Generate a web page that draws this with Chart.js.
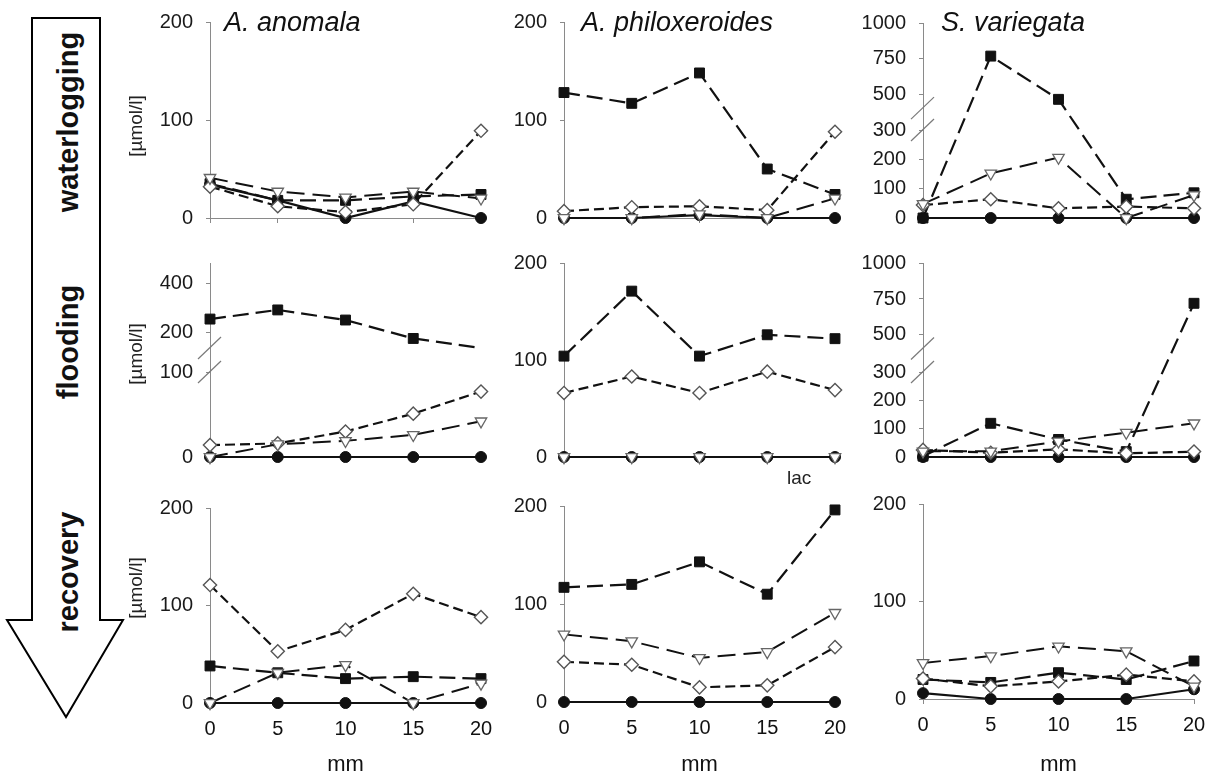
<!DOCTYPE html>
<html>
<head>
<meta charset="utf-8">
<script src="https://cdn.jsdelivr.net/npm/chart.js@4.4.1/dist/chart.umd.min.js"></script>
<style>
html,body{margin:0;padding:0;background:#fff;}
#stage{position:relative;width:1218px;height:780px;overflow:hidden;font-family:'Liberation Sans',Arial,sans-serif;background:#fff;}
#stage canvas{position:absolute;}
.t{position:absolute;white-space:nowrap;color:#111;}
.title{font-style:italic;font-size:27px;line-height:27px;}
.rot{transform:translate(-50%,-50%) rotate(-90deg);}
.row{font-weight:bold;font-size:29px;line-height:29px;}
.unit{font-size:19px;line-height:19px;color:#222;}
</style>
</head>
<body>
<div id="stage">
<svg width="130" height="780" style="position:absolute;left:0;top:0">
  <polygon points="32,18 100,18 100,620 123,620 66,717 7,620 32,620" fill="#fff" stroke="#000" stroke-width="2" stroke-linejoin="miter"/>
</svg>
</div>
<script>
// ---------- categories / ticks ----------
const depthsMm = ['0', '5', '10', '15', '20'];
const yTicks200 = [0, 100, 200];
const yTicks1000 = [0, 100, 200, 300, 500, 750, 1000];
const yTicks400 = [0, 100, 200, 400];
const speciesNames = ['A. anomala', 'A. philoxeroides', 'S. variegata'];
const phaseNames = ['waterlogging', 'flooding', 'recovery'];

// ---------- waterlogging ----------
const wlAnomalaSquare   = [35, 18, 18, 22, 24];
const wlAnomalaCircle   = [34, 18, 0, 17, 0];
const wlAnomalaTriangle = [41, 27, 21, 27, 20];
const wlAnomalaDiamond  = [32, 12, 6, 14, 89];

const wlPhiloxSquare   = [128, 117, 148, 50, 24];
const wlPhiloxCircle   = [0, 0, 3, 0, 0];
const wlPhiloxTriangle = [0, 0, 4, 0, 20];
const wlPhiloxDiamond  = [7, 11, 12, 8, 88];

const wlVariegataSquare   = [0, 770, 475, 64, 86];
const wlVariegataCircle   = [0, 0, 0, 0, 0];
const wlVariegataTriangle = [48, 152, 206, 0, 78];
const wlVariegataDiamond  = [44, 64, 33, 39, 33];

// ---------- flooding ----------
const flAnomalaSquare   = [254, 292, 250, 184, 160];
const flAnomalaCircle   = [0, 0, 0, 0, 0];
const flAnomalaTriangle = [0, 15, 19, 26, 42];
const flAnomalaDiamond  = [14, 16, 30, 51, 77];

const flPhiloxSquare   = [104, 171, 104, 126, 122];
const flPhiloxCircle   = [0, 0, 0, 0, 0];
const flPhiloxTriangle = [0, 0, 0, 0, 0];
const flPhiloxDiamond  = [66, 83, 66, 88, 69];

const flVariegataSquare   = [3, 119, 62, 19, 720];
const flVariegataCircle   = [0, 0, 0, 0, 0];
const flVariegataTriangle = [20, 20, 55, 86, 119];
const flVariegataDiamond  = [25, 15, 27, 13, 19];

// ---------- recovery ----------
const rcAnomalaSquare   = [38, 31, 25, 27, 25];
const rcAnomalaCircle   = [0, 0, 0, 0, 0];
const rcAnomalaTriangle = [0, 31, 39, 0, 20];
const rcAnomalaDiamond  = [121, 53, 75, 112, 88];

const rcPhiloxSquare   = [117, 120, 143, 110, 196];
const rcPhiloxCircle   = [0, 0, 0, 0, 0];
const rcPhiloxTriangle = [69, 62, 45, 51, 91];
const rcPhiloxDiamond  = [41, 38, 15, 17, 56];

const rcVariegataSquare   = [20, 17, 27, 20, 39];
const rcVariegataCircle   = [6, 0, 0, 0, 10];
const rcVariegataTriangle = [37, 44, 54, 49, 13];
const rcVariegataDiamond  = [21, 13, 18, 25, 18];

// ---------- custom broken linear scale ----------
class BrokenLinearScale extends Chart.LinearScale {
  _bp() { return this.options.breakpoints; }
  _toDecimal(v) {
    const bp = this._bp();
    if (!bp) return (v - this._startValue) / this._valueRange;
    let i = 0;
    while (i < bp.length - 2 && v > bp[i + 1][0]) i++;
    const a = bp[i], b = bp[i + 1];
    return a[1] + (v - a[0]) / (b[0] - a[0]) * (b[1] - a[1]);
  }
  _fromDecimal(d) {
    const bp = this._bp();
    if (!bp) return this._startValue + d * this._valueRange;
    let i = 0;
    while (i < bp.length - 2 && d > bp[i + 1][1]) i++;
    const a = bp[i], b = bp[i + 1];
    return a[0] + (d - a[1]) / (b[1] - a[1]) * (b[0] - a[0]);
  }
  getPixelForValue(value) {
    return value === null ? NaN : this.getPixelForDecimal(this._toDecimal(value));
  }
  getValueForPixel(pixel) {
    return this._fromDecimal(this.getDecimalForPixel(pixel));
  }
}
BrokenLinearScale.id = 'brokenLinear';
BrokenLinearScale.defaults = {};
Chart.register(BrokenLinearScale);

// ---------- panel layout (positions / styles) ----------
const colAxisX = [210, 564, 923];
const plotW = 271;
const Y_W = 90, PAD_T = 14, PAD_R = 15;

const panels = [
  {r:0,c:0, top:22, bottom:218, ticks:yTicks200, bp:[[0,0],[200,1]],
   d:{sq:wlAnomalaSquare, ci:wlAnomalaCircle, tr:wlAnomalaTriangle, di:wlAnomalaDiamond}},
  {r:0,c:1, top:22, bottom:218, ticks:yTicks200, bp:[[0,0],[200,1]],
   d:{sq:wlPhiloxSquare, ci:wlPhiloxCircle, tr:wlPhiloxTriangle, di:wlPhiloxDiamond}},
  {r:0,c:2, top:23, bottom:218, ticks:yTicks1000, bp:[[0,0],[300,0.451],[500,0.631],[1000,1]], marks:[300,425],
   d:{sq:wlVariegataSquare, ci:wlVariegataCircle, tr:wlVariegataTriangle, di:wlVariegataDiamond}},
  {r:1,c:0, top:263, bottom:457, ticks:yTicks400, bp:[[0,0],[100,0.438],[200,0.644],[487,1]], marks:[100,160], hideLastSq:true,
   d:{sq:flAnomalaSquare, ci:flAnomalaCircle, tr:flAnomalaTriangle, di:flAnomalaDiamond}},
  {r:1,c:1, top:263, bottom:457, ticks:yTicks200, bp:[[0,0],[200,1]],
   d:{sq:flPhiloxSquare, ci:flPhiloxCircle, tr:flPhiloxTriangle, di:flPhiloxDiamond}},
  {r:1,c:2, top:263, bottom:457, ticks:yTicks1000, bp:[[0,0],[300,0.438],[500,0.629],[1000,1]], marks:[300,427],
   d:{sq:flVariegataSquare, ci:flVariegataCircle, tr:flVariegataTriangle, di:flVariegataDiamond}},
  {r:2,c:0, top:508, bottom:703, ticks:yTicks200, bp:[[0,0],[200,1]],
   d:{sq:rcAnomalaSquare, ci:rcAnomalaCircle, tr:rcAnomalaTriangle, di:rcAnomalaDiamond}},
  {r:2,c:1, top:506, bottom:702, ticks:yTicks200, bp:[[0,0],[200,1]],
   d:{sq:rcPhiloxSquare, ci:rcPhiloxCircle, tr:rcPhiloxTriangle, di:rcPhiloxDiamond}},
  {r:2,c:2, top:504, bottom:699, ticks:yTicks200, bp:[[0,0],[200,1]],
   d:{sq:rcVariegataSquare, ci:rcVariegataCircle, tr:rcVariegataTriangle, di:rcVariegataDiamond}},
];

const FONT = "'Liberation Sans', Arial, sans-serif";
const AXIS_GRAY = '#8a8a8a';
const stage = document.getElementById('stage');

function makeDatasets(p) {
  const base = {tension:0, fill:false, clip:false, borderColor:'#111', borderWidth:2.2};
  return [
    Object.assign({}, base, {label:'open triangle', data:p.d.tr, borderDash:[18,8], borderWidth:2,
      pointStyle:'triangle', pointRotation:180, pointRadius:6.6,
      pointBackgroundColor:'#fff', pointBorderColor:'#666', pointBorderWidth:1.3}),
    Object.assign({}, base, {label:'open diamond', data:p.d.di, borderDash:[10,5],
      pointStyle:'rectRot', pointRadius:6.6,
      pointBackgroundColor:'#fff', pointBorderColor:'#555', pointBorderWidth:1.4}),
    Object.assign({}, base, {label:'filled square', data:p.d.sq, borderDash:[16,7],
      pointStyle:'rect', pointRadius: p.hideLastSq ? (ctx => ctx.dataIndex === 4 ? 0 : 7) : 7,
      pointBackgroundColor:'#111', pointBorderColor:'#111', pointBorderWidth:1}),
    Object.assign({}, base, {label:'filled circle', data:p.d.ci, borderDash:[],
      pointStyle:'circle', pointRadius:5.5,
      pointBackgroundColor:'#111', pointBorderColor:'#111', pointBorderWidth:1}),
  ];
}

panels.forEach((p, idx) => {
  const lastRow = p.r === 2;
  const xH = lastRow ? (780 - p.bottom) : 14;
  const cv = document.createElement('canvas');
  const w = Y_W + plotW + PAD_R;
  const h = PAD_T + (p.bottom - p.top) + xH;
  cv.width = w; cv.height = h;
  cv.style.left = (colAxisX[p.c] - Y_W) + 'px';
  cv.style.top = (p.top - PAD_T) + 'px';
  cv.style.width = w + 'px'; cv.style.height = h + 'px';
  cv.id = 'panel' + idx;
  stage.appendChild(cv);

  const marksPlugin = {
    id: 'breakMarks' + idx,
    afterDraw(chart) {
      if (!p.marks) return;
      const ctx = chart.ctx, ys = chart.scales.y, x0 = chart.chartArea.left;
      ctx.save();
      ctx.strokeStyle = '#7a7a7a'; ctx.lineWidth = 1.2;
      p.marks.forEach(v => {
        const py = ys.getPixelForValue(v);
        ctx.beginPath(); ctx.moveTo(x0 - 12, py + 11); ctx.lineTo(x0 + 11, py - 11); ctx.stroke();
      });
      ctx.restore();
    }
  };

  new Chart(cv, {
    type: 'line',
    data: { labels: depthsMm, datasets: makeDatasets(p) },
    plugins: [marksPlugin],
    options: {
      responsive: false, animation: false, events: [],
      layout: { padding: { top: PAD_T, right: PAD_R, left: 0, bottom: 0 } },
      plugins: { legend: { display: false }, tooltip: { enabled: false }, title: { display: false } },
      scales: {
        x: {
          type: 'category', offset: false,
          grid: { display: true, drawOnChartArea: false, drawTicks: true, tickLength: 5, color: AXIS_GRAY },
          border: { display: true, color: AXIS_GRAY, width: 1 },
          ticks: { display: lastRow, font: { family: FONT, size: 20 }, color: '#111', padding: 9, maxRotation: 0, autoSkip: false },
          title: { display: lastRow, text: 'mm', font: { family: FONT, size: 22 }, color: '#111', padding: { top: 4, bottom: 2 } },
          afterFit: s => { s.height = xH; s.paddingLeft = 0; s.paddingRight = 0; }
        },
        y: {
          type: 'brokenLinear', breakpoints: p.bp,
          min: p.bp[0][0], max: p.bp[p.bp.length - 1][0],
          grid: { display: true, drawOnChartArea: false, drawTicks: true, tickLength: 4, color: AXIS_GRAY },
          border: { display: true, color: AXIS_GRAY, width: 1 },
          ticks: { font: { family: FONT, size: 20 }, color: '#1a1a1a', padding: 13, autoSkip: false,
                   callback: v => String(v) },
          afterBuildTicks: s => { s.ticks = p.ticks.map(v => ({ value: v })); },
          afterFit: s => { s.width = Y_W; s.paddingTop = 0; s.paddingBottom = 0; }
        }
      }
    }
  });
});

// ---------- text overlays ----------
function addText(cls, txt, left, top) {
  const el = document.createElement('div');
  el.className = 't ' + cls;
  el.textContent = txt;
  el.style.left = left + 'px'; el.style.top = top + 'px';
  stage.appendChild(el);
  return el;
}
const titleLefts = [224, 581, 941];
speciesNames.forEach((s, i) => addText('title', s, titleLefts[i], 9));
const rowCenters = [122, 342, 572];
phaseNames.forEach((s, i) => addText('row rot', s, 68, rowCenters[i]));
const unitCenters = [126, 354, 588];
unitCenters.forEach(y => addText('unit rot', '[µmol/l]', 135, y));
const lac = addText('', 'lac', 787, 468);
lac.style.fontSize = '19px'; lac.style.lineHeight = '19px'; lac.style.color = '#222';
</script>
</body>
</html>
